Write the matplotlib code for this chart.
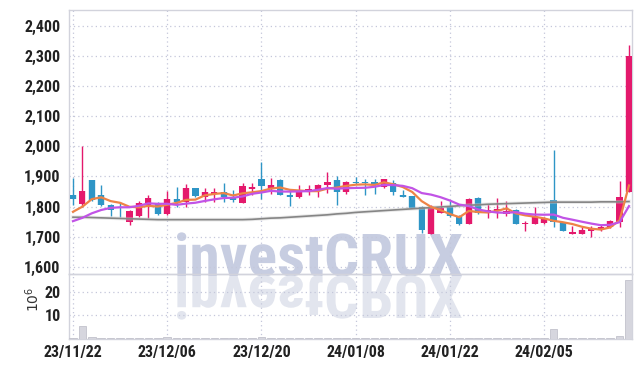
import numpy as np
import matplotlib
matplotlib.use("Agg")
import matplotlib.pyplot as plt
from matplotlib import font_manager
from matplotlib.textpath import TextPath
from matplotlib.patches import PathPatch
from matplotlib.font_manager import FontProperties
from matplotlib.transforms import Affine2D
from matplotlib.ticker import FuncFormatter

# ---------------- data ----------------
dates = ["23/11/22", "23/11/23", "23/11/24", "23/11/27", "23/11/28", "23/11/29", "23/11/30",
         "23/12/01", "23/12/04", "23/12/05", "23/12/06", "23/12/07", "23/12/08", "23/12/11",
         "23/12/12", "23/12/13", "23/12/14", "23/12/15", "23/12/18", "23/12/19", "23/12/20",
         "23/12/21", "23/12/22", "23/12/26", "23/12/27", "23/12/28", "24/01/02", "24/01/03",
         "24/01/04", "24/01/05", "24/01/08", "24/01/09", "24/01/10", "24/01/11", "24/01/12",
         "24/01/15", "24/01/16", "24/01/17", "24/01/18", "24/01/19", "24/01/22", "24/01/23",
         "24/01/24", "24/01/25", "24/01/26", "24/01/29", "24/01/30", "24/01/31", "24/02/01",
         "24/02/02", "24/02/05", "24/02/06", "24/02/07", "24/02/08", "24/02/13", "24/02/14",
         "24/02/15", "24/02/16", "24/02/19", "24/02/20"]

opens = [1837, 1808, 1888, 1837, 1806, 1800, 1748, 1768, 1806, 1808,
         1775, 1827, 1817, 1861, 1833, 1842, 1850, 1833, 1812, 1859,
         1892, 1859, 1888, 1837, 1831, 1851, 1856, 1872, 1888, 1848,
         1881, 1880, 1881, 1864, 1878, 1840, 1834, 1800, 1709, 1780,
         1798, 1770, 1743, 1828, 1778, 1784, 1776, 1790, 1742, 1743,
         1746, 1823, 1748, 1710, 1710, 1719, 1723, 1734, 1748, 1850]
highs = [1895, 2000, 1889, 1873, 1808, 1816, 1790, 1820, 1839, 1815,
         1851, 1866, 1875, 1862, 1862, 1861, 1877, 1855, 1877, 1877,
         1947, 1894, 1890, 1853, 1872, 1873, 1875, 1914, 1900, 1886,
         1897, 1892, 1892, 1893, 1889, 1856, 1836, 1801, 1807, 1820,
         1820, 1772, 1829, 1831, 1809, 1828, 1820, 1792, 1754, 1798,
         1766, 1988, 1749, 1735, 1734, 1737, 1738, 1756, 1886, 2337]
lows = [1806, 1798, 1820, 1802, 1768, 1765, 1740, 1767, 1763, 1771,
        1774, 1799, 1798, 1832, 1817, 1815, 1817, 1815, 1811, 1840,
        1826, 1842, 1839, 1801, 1829, 1837, 1833, 1844, 1807, 1842,
        1875, 1840, 1842, 1862, 1840, 1832, 1795, 1714, 1709, 1778,
        1765, 1740, 1741, 1776, 1763, 1763, 1770, 1742, 1721, 1741,
        1744, 1734, 1718, 1709, 1709, 1701, 1720, 1730, 1734, 1848]
closes = [1825, 1853, 1822, 1804, 1788, 1797, 1787, 1813, 1829, 1776,
          1827, 1817, 1863, 1834, 1847, 1850, 1831, 1823, 1870, 1864,
          1870, 1873, 1840, 1832, 1853, 1859, 1873, 1883, 1848, 1881,
          1879, 1878, 1873, 1892, 1849, 1833, 1796, 1722, 1796, 1796,
          1768, 1743, 1826, 1778, 1789, 1792, 1787, 1743, 1745, 1767,
          1763, 1748, 1719, 1715, 1723, 1730, 1734, 1754, 1833, 2300]
volumes = [0.4, 5.3, 0.5, 0.4, 0.4, 0.15, 0.15, 0.15, 0.15, 0.15,
           0.6, 0.15, 0.15, 0.15, 0.15, 0.15, 0.15, 0.15, 0.15, 0.15,
           0.8, 0.15, 0.15, 0.15, 0.15, 0.15, 0.15, 0.15, 0.15, 0.15,
           0.15, 0.15, 0.15, 0.15, 0.15, 0.15, 0.15, 0.15, 0.15, 0.15,
           0.15, 0.15, 0.15, 0.15, 0.15, 0.15, 0.15, 0.15, 0.15, 0.15,
           0.15, 3.9, 0.15, 0.15, 0.15, 0.15, 0.15, 0.15, 0.9, 25.3]
# moving-average values at the start of the window
ma5_head = [1783, 1800, 1825, 1831]
ma10_head = [1752, 1763, 1778, 1789, 1796, 1798, 1798, 1803, 1811]
# long moving average (gray)
ma_long = [1765, 1765, 1764, 1763, 1762, 1761, 1760, 1759, 1758, 1757,
           1757, 1757, 1757, 1757, 1757, 1757, 1757, 1757, 1757, 1758,
           1760, 1762, 1763, 1765, 1767, 1769, 1771, 1773, 1776, 1778,
           1781, 1783, 1785, 1787, 1789, 1791, 1793, 1795, 1797, 1799,
           1801, 1803, 1805, 1806, 1808, 1809, 1810, 1811, 1812, 1813,
           1814, 1815, 1815, 1815, 1815, 1815, 1816, 1816, 1816, 1817]
tick_dates = ["23/11/22", "23/12/06", "23/12/20", "24/01/08", "24/01/22", "24/02/05"]
price_ticks = [1600, 1700, 1800, 1900, 2000, 2100, 2200, 2300, 2400]
vol_ticks = [10, 20]

# ---------------- styling ----------------
UP = "#e4196c"
DOWN = "#2e95c6"
ORANGE = "#ee8346"
VIOLET = "#c153e6"
GRAY = "#858585"
GRID = "#c4c7da"
SPINE = "#d2d3dc"
TXT = "#222222"


def pick_condensed_bold():
    """Find a condensed / narrow bold font file if one is installed."""
    fl = font_manager.fontManager.ttflist
    prefs = ["Liberation Sans Narrow", "Roboto Condensed", "Open Sans Condensed",
             "DejaVu Sans Condensed"]
    for name in prefs:
        for f in fl:
            if f.name == name and f.weight in ("bold", 700, "heavy", 800):
                return f.fname
    for f in fl:
        low = f.fname.lower()
        if ("condensed" in low or "narrow" in low) and "bold" in low and "oblique" not in low \
                and "italic" not in low:
            return f.fname
    for f in fl:
        if f.stretch in ("condensed", "semi-condensed", 500) and f.weight in ("bold", 700):
            return f.fname
    return None


cfile = pick_condensed_bold()
if cfile:
    def tick_fp(size):
        return FontProperties(fname=cfile, size=size)
    tick_size = 11.5
else:
    def tick_fp(size):
        return FontProperties(family="DejaVu Sans", weight="bold", size=size)
    tick_size = 9

W, H = 642, 366
fig = plt.figure(figsize=(W / 100, H / 100), dpi=100)
fig.patch.set_facecolor("white")

L, R = 69, 632
T, MID, B = 9.5, 273.7, 338.5
ax = fig.add_axes([L / W, 1 - MID / H, (R - L) / W, (MID - T) / H])
axv = fig.add_axes([L / W, 1 - B / H, (R - L) / W, (B - MID) / H], sharex=ax)

x = np.arange(len(dates))
o = np.array(opens, float)
c = np.array(closes, float)
h = np.array(highs, float)
l = np.array(lows, float)
up = c >= o
colors = np.where(up, UP, DOWN)

# moving averages
ma5 = np.array(ma5_head + [np.mean(c[i - 4:i + 1]) for i in range(4, len(c))])
ma10 = np.array(ma10_head + [np.mean(c[i - 9:i + 1]) for i in range(9, len(c))])

for a in (ax, axv):
    a.set_facecolor("none")
    for s in a.spines.values():
        s.set_color(SPINE)
        s.set_linewidth(1.0)
    a.grid(True, color=GRID, linestyle=(0, (1, 2.5)), linewidth=0.9)
    a.set_axisbelow(True)
    a.tick_params(length=0, pad=6, colors=TXT)

# candles: halo, wicks, bodies
ax.vlines(x, l, h, colors=colors, linewidth=1.0, zorder=3)
body_h = np.maximum(np.abs(c - o), 2.5)
ax.bar(x, body_h, bottom=np.minimum(o, c), width=0.8, color=colors, alpha=0.18,
       linewidth=0, zorder=2)
ax.bar(x, body_h, bottom=np.minimum(o, c), width=0.66, color=colors, linewidth=0, zorder=3)

ax.plot(x, ma_long, color="#c8c8c8", linewidth=2.6, alpha=0.4, zorder=4)
ax.plot(x, ma_long, color=GRAY, linewidth=1.2, zorder=4)
ax.plot(x, ma5, color=ORANGE, linewidth=1.6, zorder=5)
ax.plot(x, ma10, color=VIOLET, linewidth=1.6, zorder=5)

ax.set_xlim(-0.42, 59.32)
ax.set_ylim(1578, 2453)
ax.set_yticks(price_ticks)
ax.yaxis.set_major_formatter(FuncFormatter(lambda v, p: f"{int(v):,}"))
for t in ax.get_yticklabels():
    t.set_fontproperties(tick_fp(tick_size))
ax.tick_params(axis="x", labelbottom=False)

# volume
axv.bar(x, volumes, width=0.8, color="#d6d6de", edgecolor="#c2c2cc", linewidth=0.6, zorder=3)
axv.set_ylim(0, 27.85)
axv.set_yticks(vol_ticks)
tick_idx = [dates.index(d) for d in tick_dates]
axv.set_xticks(tick_idx)
axv.set_xticklabels(tick_dates)
for t in axv.get_yticklabels() + axv.get_xticklabels():
    t.set_fontproperties(tick_fp(tick_size))
axv.tick_params(axis="x", pad=5)
fig.text(33 / W, 1 - 299 / H, r"$10^6$", rotation=90, ha="center", va="center",
         fontsize=10, color="#333333")

# watermark with reflection
if cfile:
    fp = FontProperties(fname=cfile)
else:
    fp = FontProperties(family="DejaVu Sans", weight="bold")
tp = TextPath((0, 0), "investCRUX", size=100, prop=fp)
cap = TextPath((0, 0), "X", size=100, prop=fp).get_extents().height
bb = tp.get_extents()
sx = (462 - 177) / bb.width
sy = 42 / cap
x0 = 177 - bb.x0 * sx
base = H - 276
tr1 = Affine2D().scale(sx, sy).translate(x0, base)
tr2 = Affine2D().scale(sx, -sy).translate(x0, base)
fig.patches.append(PathPatch(tp, transform=tr1, facecolor="#c7cde1", edgecolor="none",
                             zorder=-1, figure=fig))
fig.patches.append(PathPatch(tp, transform=tr2, facecolor="#e2e5ee", edgecolor="none",
                             zorder=-1, figure=fig))

fig.savefig("out.png", dpi=100, facecolor="white")
